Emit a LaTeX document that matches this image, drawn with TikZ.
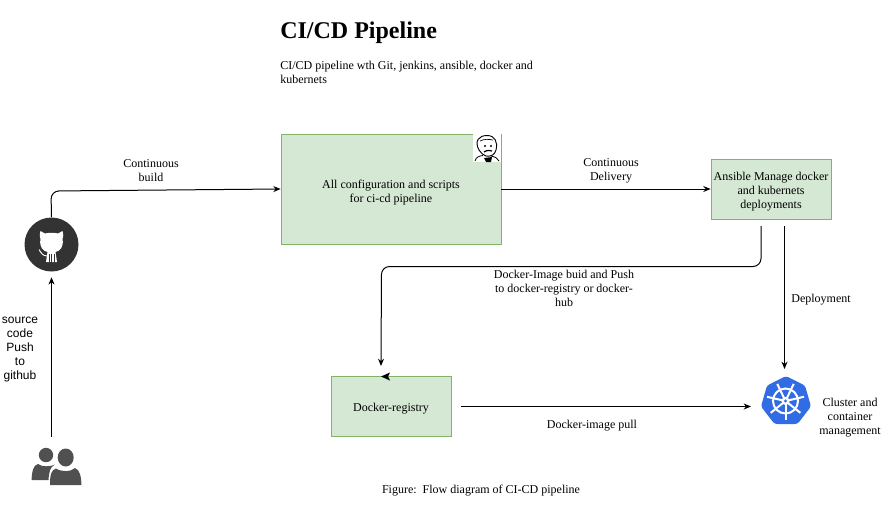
\documentclass[tikz,border=0pt]{standalone}
\usepackage{fontspec}
\setmainfont{Liberation Serif}
\setsansfont{Liberation Sans}
\usetikzlibrary{arrows.meta}
\definecolor{boxfill}{HTML}{D5E8D4}
\definecolor{boxline}{HTML}{82B366}
\definecolor{kubeblue}{HTML}{326CE5}
\definecolor{hubgray}{HTML}{333333}
\definecolor{usergray}{HTML}{505050}
\tikzset{
  greenbox/.style={draw=boxline,fill=boxfill,line width=0.6pt,align=center,inner sep=1pt,font=\fontsize{9}{10.5}\selectfont},
  flow/.style={-{Stealth[length=5.5pt,width=4.5pt]},line width=0.75pt,rounded corners=6pt},
  caption/.style={align=center,inner sep=0pt,font=\fontsize{9}{10.5}\selectfont},
}
\begin{document}
\begin{tikzpicture}[x=0.75pt,y=-0.75pt]
    \useasboundingbox (0,0) rectangle (884,508);
    % Title
    \node[anchor=base west,inner sep=0pt,font=\bfseries\fontsize{18}{21}\selectfont] (title) at (280,38) {CI/CD Pipeline};
    \node[caption,anchor=north west,align=left] (subtitle) at (280,60.5) {CI/CD pipeline wth Git, jenkins, ansible, docker and\\kubernets};
    % Boxes
    \node[greenbox,minimum width=165pt,minimum height=82.5pt] (ci) at (391,189) {\rule{0pt}{11pt}All configuration and scripts\\for ci-cd pipeline};
    \node[greenbox,minimum width=90pt,minimum height=45pt] (ansible) at (771,189) {\rule{0pt}{10.5pt}Ansible Manage docker\\and kubernets\\deployments};
    \node[greenbox,minimum width=90pt,minimum height=45pt] (registry) at (391,406) {\rule{0pt}{9.5pt}Docker-registry};
    % Icons
    \node[circle,fill=hubgray,minimum size=40.5pt,inner sep=0pt] (github) at (51.5,244.5) {};
    \fill[white] (40.5,231) -- (45,233.5) .. controls (49,232.5) and (54,232.5) .. (58,233.5) -- (62.5,231)
      .. controls (63.5,235) and (63.5,237) .. (62.5,239) .. controls (64,247) and (60,251) .. (55.5,252)
      -- (57,262) -- (46,262) -- (47.5,252) .. controls (43,251) and (39,247) .. (40.5,239)
      .. controls (39.5,237) and (39.5,235) .. (40.5,231) -- cycle;
    \draw[white,line width=0.7pt] (39,249.5) .. controls (41,253) and (43,256) .. (47,256);
    \foreach \x in {49,51.5,54} {
      \draw[hubgray,line width=0.6pt] (\x,254) -- (\x,262.5);
    }
    \node[minimum width=37.5pt,minimum height=36pt,inner sep=0pt] (users) at (56.5,461) {};
    \fill[usergray] (46,455) circle (7.2);
    \fill[usergray] (31.5,480) .. controls (32,472) and (33,465) .. (38,464) .. controls (42,467) and (50,467) .. (55,464.5)
      .. controls (50,467) and (49,472) .. (48.5,480) -- cycle;
    \fill[usergray] (65.7,457.5) ellipse (8 and 9);
    \fill[usergray] (50,485) .. controls (50,475) and (51,470) .. (56,468.5) .. controls (61,472) and (71,472) .. (75,468)
      .. controls (80,470) and (81,476) .. (81.5,485) -- cycle;
    \node[minimum width=37.5pt,minimum height=36pt,inner sep=0pt] (kube) at (786,400) {};
    \fill[kubeblue,rounded corners=2pt] (786,376) -- (805,385.5) -- (811,406.5) -- (797.5,424) -- (774.5,424) -- (761,406.5) -- (767,385.5) -- cycle;
    \draw[white,line width=1.5pt] (785.5,401) circle (12.5);
    \foreach \a in {90,141.4,...,400} {
      \draw[white,line width=1.5pt] (785.5,401) -- ++(\a:19);
    }
    \fill[white] (785.5,401) circle (4);
    \fill[kubeblue] (785.5,401) circle (1.7);
    \node[fill=white,minimum size=21pt,inner sep=0pt] (jenkins) at (487,148) {};
    \draw[line width=0.7pt,fill=white] (479,150) .. controls (474,141) and (479,135.5) .. (487,135.5) .. controls (495,135.5) and (498,142) .. (496,150)
      .. controls (495,155) and (490,157) .. (486,156) .. controls (483,155) and (481,153) .. (479,150) -- cycle;
    \draw[line width=0.5pt] (480,141) .. controls (484,139) and (488,139) .. (493,140);
    \draw[line width=0.6pt] (475,161) .. controls (476,157) and (479,156) .. (483,155.5) (491,156) .. controls (495,157) and (498,158) .. (499,161);
    \fill (485,146) circle (1.1) (491,146) circle (1.1);
    \draw[line width=0.9pt] (484,152) .. controls (487,150) and (490,150) .. (492,151);
    \fill (484,158) -- (492,157) -- (491,162) -- (486,162) -- cycle;
    % Free ends
    \coordinate (usersout) at (51.5,437);
    \coordinate (ansibleleft) at (761,226);
    \coordinate (ansibleright) at (784.5,226);
    \coordinate (registrytop) at (381,366);
    \coordinate (registryout) at (461,406.5);
    \coordinate (kubetop) at (784.5,369);
    \coordinate (kubeleft) at (751,406.5);
    % Connectors
    \draw[flow,shorten >=4.1pt] (usersout) -- (github.south);
    \draw[flow] (github.north) -- (51,191) -- (ci.west);
    \draw[flow] (ci.east) -- (ansible.west);
    \draw[flow] (ansibleleft) -- (761,266.5) -- (381.5,266.5) -- (registrytop);
    \draw[flow] (ansibleright) -- (kubetop);
    \draw[flow] (registryout) -- (kubeleft);
    \fill (381,376.5) -- (390,372.5) -- (388,376.5) -- (390,380.5) -- cycle;
    % Labels
    \node[caption] (buildlabel) at (151,171) {Continuous\\build};
    \node[caption] (deliverylabel) at (611,171) {Continuous\\Delivery};
    \node[caption] (pushlabel) at (564,288) {Docker-Image buid and Push\\to docker-registry or docker-\\hub};
    \node[caption] (deploylabel) at (821,300) {Deployment};
    \node[caption] (pulllabel) at (592,426) {Docker-image pull};
    \node[caption,font=\sffamily\fontsize{9}{10.5}\selectfont] (sourcelabel) at (20,350) {source\\code\\Push\\to\\github};
    \node[caption] (clusterlabel) at (850,417.5) {Cluster and\\container\\management};
    \node[caption] (figurelabel) at (481,490.5) {Figure:\ \ Flow diagram of CI-CD pipeline};
  \end{tikzpicture}
\end{document}
